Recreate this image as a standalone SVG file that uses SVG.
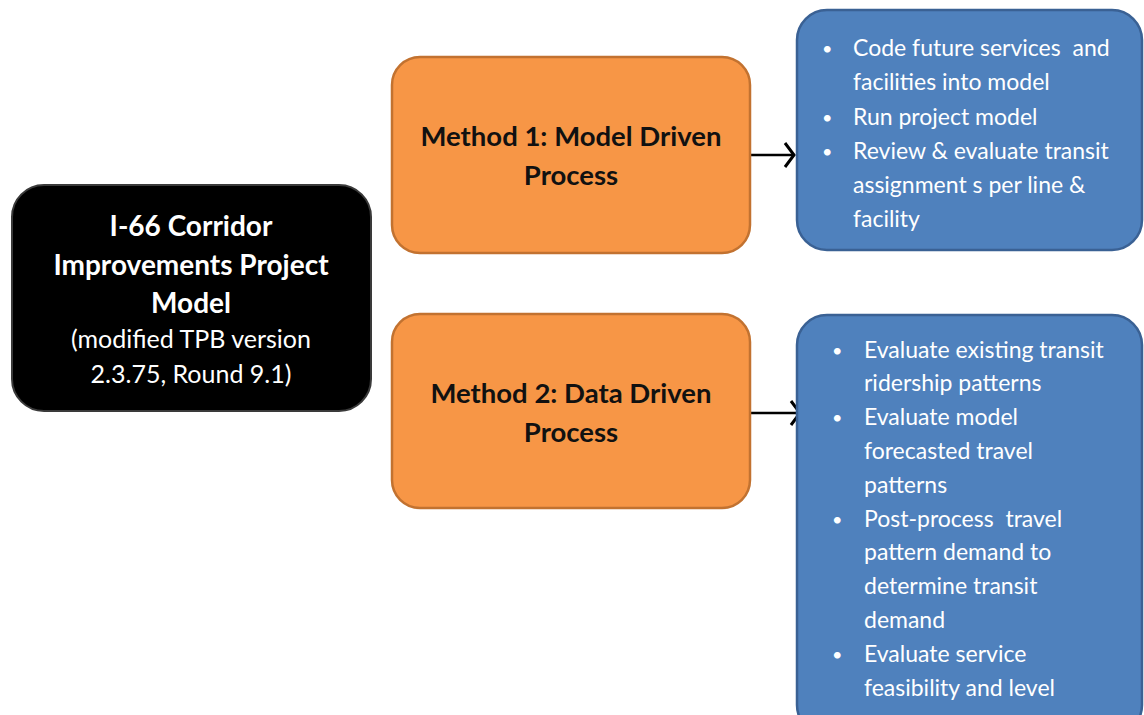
<svg xmlns="http://www.w3.org/2000/svg" width="1144" height="715" viewBox="0 0 1144 715">
<defs>
<style>
.t{font-family:Lato,"Liberation Sans",sans-serif}
.bk{fill:#000;stroke:#3a3a3a;stroke-width:2}
.or{fill:#F79646;stroke:#C27230;stroke-width:2.5}
.bl{fill:#4F81BD;stroke:#3A6194;stroke-width:2.5}
.wb{fill:#fff;font-size:28px;font-weight:bold;text-anchor:middle}
.wr{fill:#fff;font-size:25px;text-anchor:middle}
.ob{fill:#111;font-size:27.5px;font-weight:bold;text-anchor:middle}
.li{fill:#fff;font-size:23px}
.bu{fill:#fff;font-size:18px}
.con{stroke:#000;stroke-width:2.5;fill:none}
</style>
<marker id="ah" markerWidth="14" markerHeight="28" refX="11" refY="14" orient="auto" markerUnits="userSpaceOnUse">
<path d="M2,2 L11,14 L2,26" fill="none" stroke="#000" stroke-width="3"/>
</marker>
</defs>
<rect width="1144" height="715" fill="#fff"/>
<g id="connectors">
<line class="con" x1="750" y1="155" x2="794" y2="155" marker-end="url(#ah)"/>
<line class="con" x1="750" y1="413" x2="800" y2="413" marker-end="url(#ah)"/>
</g>
<g id="model" class="t">
<rect class="bk" x="12" y="185" width="359" height="226" rx="32"/>
<text class="wb" x="191" y="236">I-66 Corridor</text>
<text class="wb" x="191" y="275">Improvements Project</text>
<text class="wb" x="191" y="313">Model</text>
<text class="wr" x="191" y="348">(modified TPB version</text>
<text class="wr" x="191" y="383">2.3.75, Round 9.1)</text>
</g>
<g id="method1" class="t">
<rect class="or" x="392" y="57" width="358" height="196" rx="28"/>
<text class="ob" x="571" y="146">Method 1: Model Driven</text>
<text class="ob" x="571" y="185">Process</text>
</g>
<g id="method2" class="t">
<rect class="or" x="392" y="314" width="358" height="194" rx="28"/>
<text class="ob" x="571" y="403">Method 2: Data Driven</text>
<text class="ob" x="571" y="442">Process</text>
</g>
<g id="steps1" class="t">
<rect class="bl" x="797" y="10" width="345" height="240" rx="30"/>
<g class="bu">
<text x="822" y="55">•</text>
<text x="822" y="124">•</text>
<text x="822" y="158">•</text>
</g>
<g class="li">
<text x="853" y="56" xml:space="preserve">Code future services  and</text>
<text x="853" y="90">facilities into model</text>
<text x="853" y="125">Run project model</text>
<text x="853" y="159">Review &amp; evaluate transit</text>
<text x="853" y="193">assignment s per line &amp;</text>
<text x="853" y="227">facility</text>
</g>
</g>
<g id="steps2" class="t">
<rect class="bl" x="797" y="315" width="345" height="420" rx="30"/>
<g class="bu">
<text x="832" y="357">•</text>
<text x="832" y="424">•</text>
<text x="832" y="526">•</text>
<text x="832" y="661">•</text>
</g>
<g class="li">
<text x="864" y="358">Evaluate existing transit</text>
<text x="864" y="391">ridership patterns</text>
<text x="864" y="425">Evaluate model</text>
<text x="864" y="459">forecasted travel</text>
<text x="864" y="493">patterns</text>
<text x="864" y="527" xml:space="preserve">Post-process  travel</text>
<text x="864" y="560">pattern demand to</text>
<text x="864" y="594">determine transit</text>
<text x="864" y="628">demand</text>
<text x="864" y="662">Evaluate service</text>
<text x="864" y="696">feasibility and level</text>
</g>
</g>
</svg>
